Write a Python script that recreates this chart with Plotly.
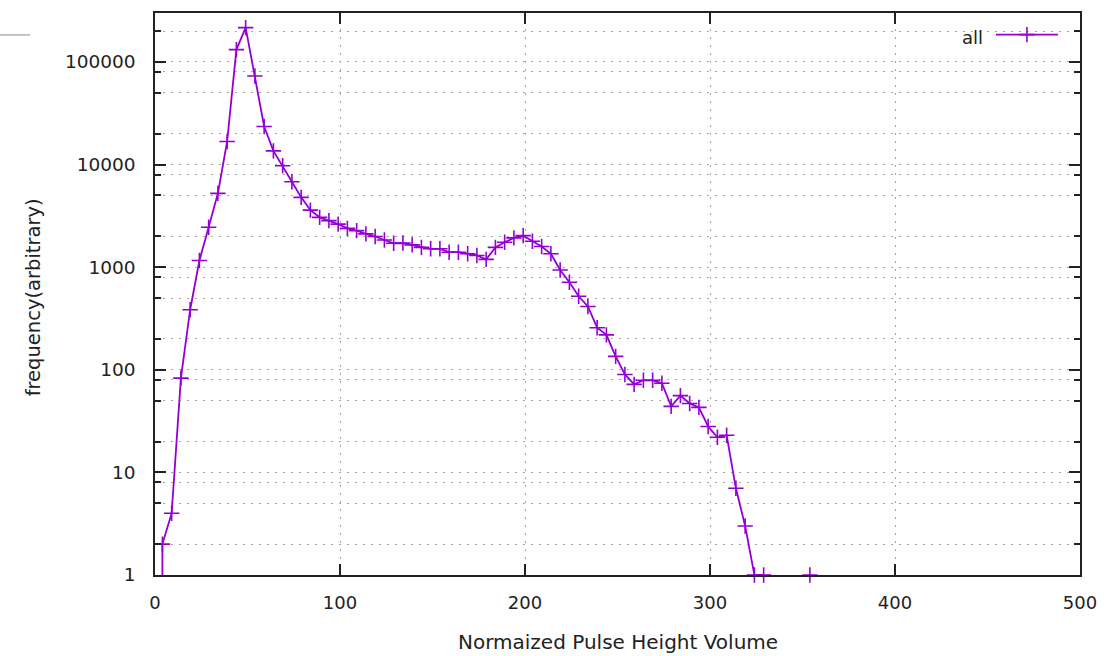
import plotly.graph_objects as go

# Pulse-height histogram (bin centres every 5 units); None marks empty bins
pulse_height = [4, 4, 9, 14, 19, 24, 29, 34, 39, 44, 49, 54, 59, 64, 69, 74, 79,
                84, 89, 94, 99, 104, 109, 114, 119, 124, 129, 134, 139, 144, 149,
                154, 159, 164, 169, 174, 179, 184, 189, 194, 199, 204, 209, 214,
                219, 224, 229, 234, 239, 244, 249, 254, 259, 264, 269, 274, 279,
                284, 289, 294, 299, 304, 309, 314, 319, 324, 329, 334, 339, 344,
                349, 354]
frequency = [0.1, 2, 4, 83, 385, 1160, 2450, 5240, 16800, 132000, 216000, 73000,
             23500, 13600, 9730, 6800, 4790, 3600, 3060, 2840, 2630, 2390, 2270,
             2110, 1990, 1840, 1710, 1720, 1650, 1560, 1510, 1510, 1400, 1400,
             1350, 1300, 1190, 1560, 1750, 1930, 2030, 1790, 1590, 1350, 940, 713,
             521, 414, 257, 219, 135, 90, 72, 79, 79, 74, 44, 56, 47, 43, 28, 22,
             23, 7, 3, 1, 1, None, None, None, None, 1]

x_ticks = [0, 100, 200, 300, 400, 500]
y_ticks = [1, 10, 100, 1000, 10000, 100000]
y_tick_text = ["1", "10", "100", "1000", "10000", "100000"]
y_minor = [m * 10 ** k for k in range(6) for m in (2, 5, 8) if m * 10 ** k < 3e5]

x_title = "Normaized Pulse Height Volume"
y_title = "frequency(arbitrary)"

LINE_COLOR = "#9400D3"
GRID_COLOR = "#a8a8a8"
GRID_DASH = "2px,6px"
AXIS_COLOR = "#222222"
FONT = "DejaVu Sans"

fig = go.Figure()
fig.add_trace(go.Scatter(
    x=pulse_height, y=frequency, mode="lines+markers", name=" ",
    line=dict(color=LINE_COLOR, width=1.8),
    marker=dict(symbol="cross-thin", size=11,
                line=dict(color=LINE_COLOR, width=1.6)),
    connectgaps=False, cliponaxis=False, showlegend=True,
))

fig.update_layout(
    width=1106, height=656,
    margin=dict(l=155, r=26, t=13, b=81),
    paper_bgcolor="white", plot_bgcolor="white",
    font=dict(family=FONT, size=16, color=AXIS_COLOR),
    showlegend=True,
    legend=dict(
        x=0.988, y=0.957, xanchor="right", yanchor="middle",
        bgcolor="rgba(0,0,0,0)", itemwidth=62,
        title=dict(text="all", side="left", font=dict(size=18, color=AXIS_COLOR)),
        font=dict(size=2),
    ),
    xaxis=dict(
        range=[0, 500], tickmode="array", tickvals=x_ticks, automargin=False,
        ticks="inside", ticklen=11, tickwidth=1.5, tickcolor=AXIS_COLOR,
        showline=True, linecolor=AXIS_COLOR, linewidth=1.5, mirror="allticks",
        showgrid=True, zeroline=False,
        gridcolor=GRID_COLOR, griddash=GRID_DASH, gridwidth=1,
        tickfont=dict(size=18), ticklabelstandoff=11,
    ),
    yaxis=dict(
        type="log", range=[0, 5.4771], tickmode="array", automargin=False,
        tickvals=y_ticks, ticktext=y_tick_text,
        ticks="inside", ticklen=11, tickwidth=1.5, tickcolor=AXIS_COLOR,
        showline=True, linecolor=AXIS_COLOR, linewidth=1.5, mirror="allticks",
        showgrid=True, zeroline=False,
        gridcolor=GRID_COLOR, griddash=GRID_DASH, gridwidth=1,
        minor=dict(tickmode="array", tickvals=y_minor, ticks="inside",
                   ticklen=6, tickwidth=1.5, tickcolor=AXIS_COLOR,
                   showgrid=True, gridcolor=GRID_COLOR, griddash=GRID_DASH),
        tickfont=dict(size=18.5), ticklabelstandoff=14,
    ),
)

# axis titles placed in paper space
fig.add_annotation(text=x_title, xref="paper", yref="paper", x=0.5, y=0,
                   xanchor="center", yanchor="middle", yshift=-67,
                   showarrow=False, font=dict(size=20, color=AXIS_COLOR))
fig.add_annotation(text=y_title, xref="paper", yref="paper", x=0, y=0.494,
                   xanchor="center", yanchor="middle", xshift=-122,
                   textangle=-90, showarrow=False,
                   font=dict(size=19.5, color=AXIS_COLOR))

# thin grey rule at the top-left edge of the page
fig.add_shape(type="line", xref="paper", yref="paper",
              x0=-0.1676, x1=-0.135, y0=0.961, y1=0.961,
              line=dict(color="#b0b0b0", width=1.5))

fig.write_html("out.html")
